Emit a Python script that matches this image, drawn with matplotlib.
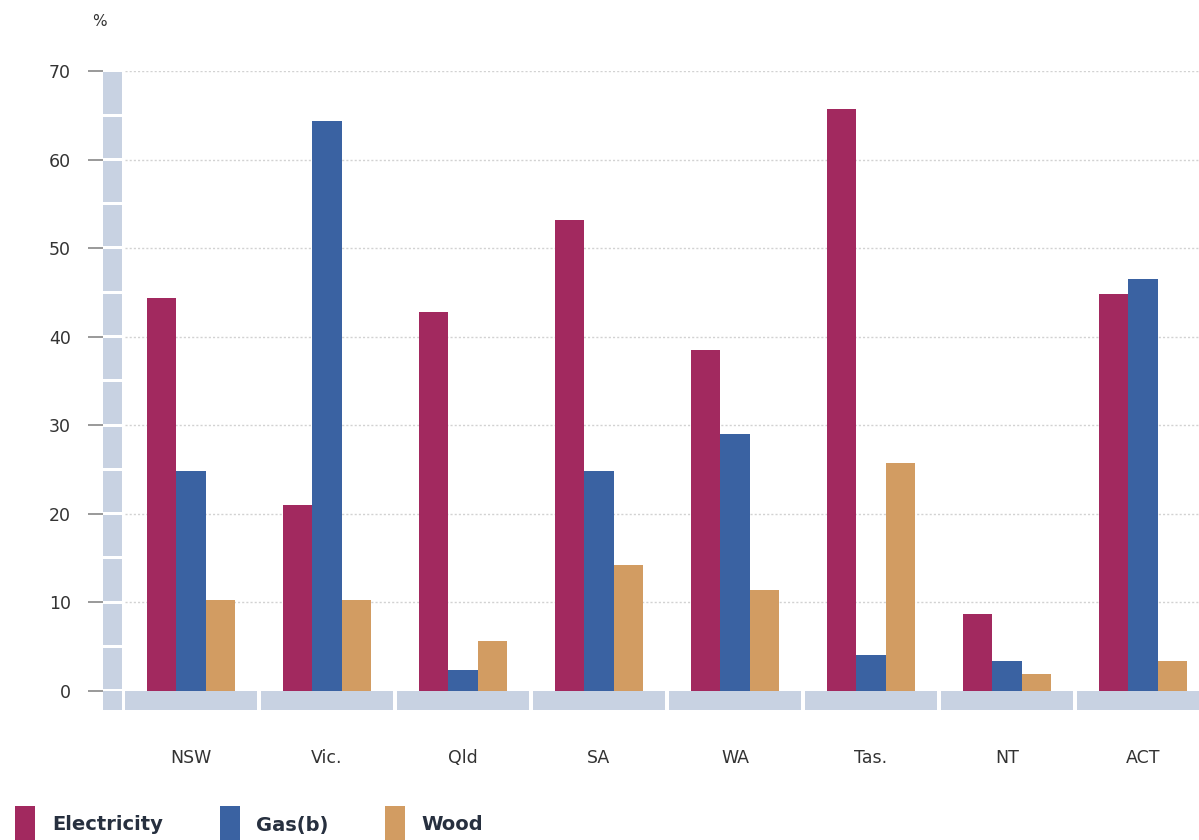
import matplotlib
matplotlib.use("Agg")
import matplotlib.pyplot as plt
from matplotlib.patches import Rectangle
import numpy as np

categories = ["NSW", "Vic.", "Qld", "SA", "WA", "Tas.", "NT", "ACT"]
electricity = [44.4, 21.0, 42.8, 53.2, 38.5, 65.7, 8.7, 44.8]
gas = [24.8, 64.4, 2.4, 24.8, 29.0, 4.1, 3.4, 46.5]
wood = [10.3, 10.3, 5.6, 14.2, 11.4, 25.7, 1.9, 3.4]
series_names = ["Electricity", "Gas(b)", "Wood"]
yticks = [0, 10, 20, 30, 40, 50, 60, 70]

c_elec = "#A2295F"
c_gas = "#3A62A2"
c_wood = "#D29C62"
c_band = "#C8D2E2"
txt = "#333333"

W, H = 1199, 840
fig = plt.figure(figsize=(W / 100, H / 100), dpi=100)
ax_left, ax_right, ax_top, ax_bot = 103, 1199, 71, 710
ax = fig.add_axes([ax_left / W, (H - ax_bot) / H, (ax_right - ax_left) / W, (ax_bot - ax_top) / H])

x = np.arange(len(categories))
xl = (ax_left - 191) / 136.0
xr = (ax_right - 191) / 136.0
ybot = -(ax_bot - 691) / 8.86
ax.set_xlim(xl, xr)
ax.set_ylim(ybot, 70)

band_x1 = (122 - 191) / 136.0

# gridlines
for yv in yticks[1:]:
    ax.hlines(yv, band_x1 + 0.02, xr, colors="#d2d2d2", linestyles=(0, (1.5, 1.5)), linewidth=1.0, zorder=1)

bw = 0.217
ax.bar(x - bw, electricity, width=bw, color=c_elec, zorder=3, linewidth=0)
ax.bar(x, gas, width=bw, color=c_gas, zorder=3, linewidth=0)
ax.bar(x + bw, wood, width=bw, color=c_wood, zorder=3, linewidth=0)

# bottom band segments
for xi in x:
    ax.add_patch(Rectangle((xi - 0.485, ybot), 0.97, -ybot - 0.05, color=c_band, zorder=2, linewidth=0))
# left band segments
ax.add_patch(Rectangle((xl, ybot), band_x1 - xl, -ybot - 0.05, color=c_band, zorder=2, linewidth=0))
for s in range(0, 70, 5):
    ax.add_patch(Rectangle((xl, s + 0.2), band_x1 - xl, 4.65, color=c_band, zorder=2, linewidth=0))

for sp in ax.spines.values():
    sp.set_visible(False)

ax.set_yticks(yticks)
ax.set_yticklabels([str(v) for v in yticks], fontsize=12.5, color=txt)
ax.tick_params(axis="y", length=11, width=1.2, color="#888888", pad=12)
ax.set_xticks(x)
ax.set_xticklabels(categories, fontsize=12.5, color=txt)
ax.tick_params(axis="x", length=0, pad=28)

fig.text(92 / W, 1 - 22 / H, "%", fontsize=11, color=txt, ha="left", va="center")

# legend
leg_items = [(15, 52, c_elec), (220, 256, c_gas), (385, 421, c_wood)]
for (sx, tx, col), name in zip(leg_items, series_names):
    fig.patches.append(Rectangle((sx / W, 0), 20 / W, 34 / H, transform=fig.transFigure,
                                 color=col, figure=fig, linewidth=0))
    fig.text(tx / W, 1 - 825 / H, name, fontsize=14, fontweight="bold", color="#27303f",
             ha="left", va="center")

fig.savefig("out.png", dpi=100, facecolor="white")
